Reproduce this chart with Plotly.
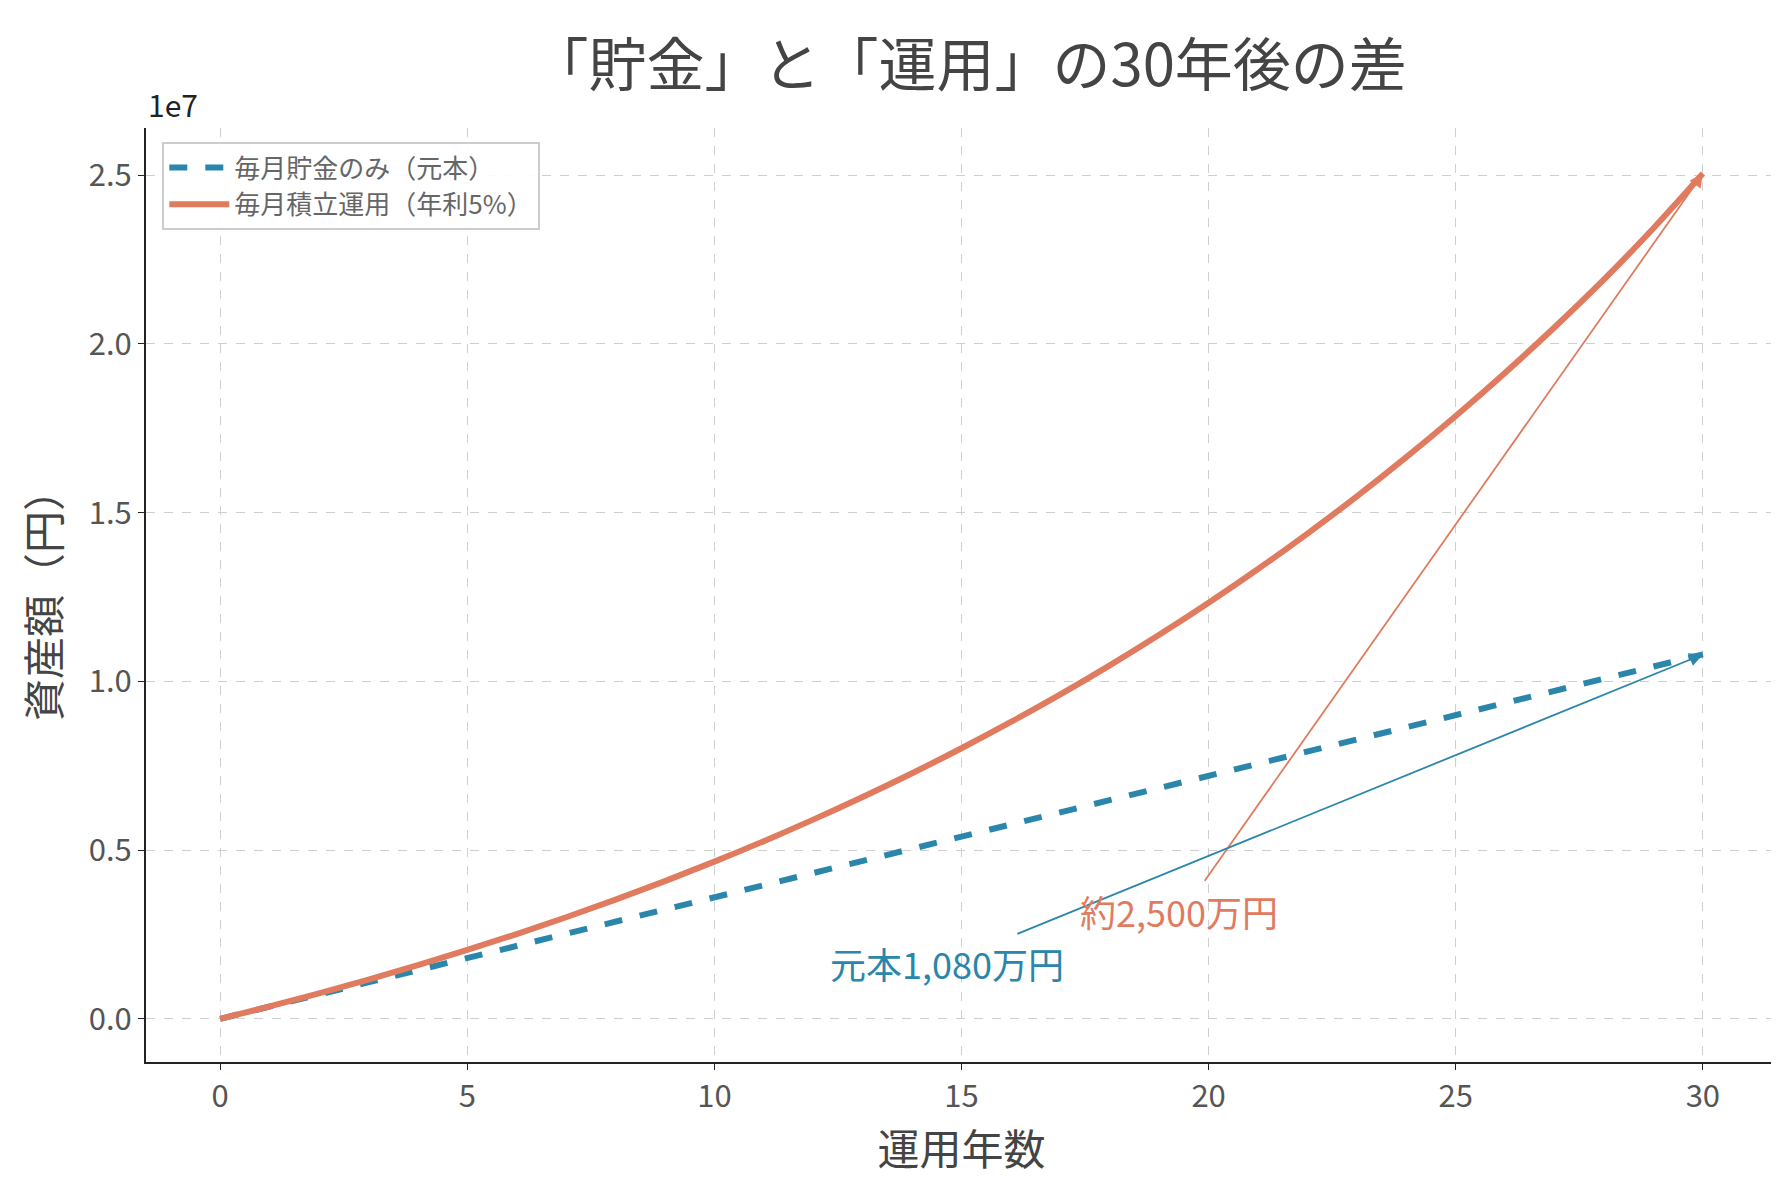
import plotly.graph_objects as go

years = list(range(0, 31))
principal = [y * 360000 for y in years]
invested = [0, 368350, 755570, 1162580, 1590480, 2040190, 2512940, 3009890, 3532250,
            4081320, 4658470, 5265220, 5902920, 6573310, 7277980, 8018640, 8797320,
            9615740, 10476070, 11380390, 12331010, 13330300, 14380630, 15484750,
            16645320, 17865290, 19147680, 20495740, 21912700, 23430000, 25050000]
ytick_vals = [0, 5e6, 1e7, 1.5e7, 2e7, 2.5e7]
ytick_text = ["0.0", "0.5", "1.0", "1.5", "2.0", "2.5"]

BLUE = "#2a86ab"
ORANGE = "#e07b5f"
FONT = "Noto Sans CJK JP"

fig = go.Figure()
fig.add_trace(go.Scatter(x=years, y=principal, mode="lines", name="毎月貯金のみ（元本）",
                         line=dict(color=BLUE, width=6, dash="dash")))
fig.add_trace(go.Scatter(x=years, y=invested, mode="lines", name="毎月積立運用（年利5%）",
                         line=dict(color=ORANGE, width=6, shape="spline")))

# arrows
fig.add_annotation(x=30, y=invested[-1], ax=19.9, ay=4.05e6, axref="x", ayref="y",
                   xref="x", yref="y", text="", showarrow=True, arrowhead=2,
                   arrowsize=1.5, arrowwidth=1.8, arrowcolor=ORANGE)
fig.add_annotation(x=30, y=principal[-1], ax=16.1, ay=2.5e6, axref="x", ayref="y",
                   xref="x", yref="y", text="", showarrow=True, arrowhead=2,
                   arrowsize=1.5, arrowwidth=1.8, arrowcolor=BLUE)
fig.add_annotation(x=19.4, y=3.2e6, text="約2,500万円", showarrow=False,
                   font=dict(size=36, color=ORANGE, family=FONT))
fig.add_annotation(x=14.7, y=1.66e6, text="元本1,080万円", showarrow=False,
                   font=dict(size=36, color=BLUE, family=FONT))
fig.add_annotation(x=0, y=1.0, xref="paper", yref="paper", text="1e7", showarrow=False,
                   xanchor="left", yanchor="bottom", font=dict(size=30, color="#222"))

axis_common = dict(showline=True, linecolor="#222", linewidth=2, ticks="outside",
                   tickcolor="#222", ticklen=6, showgrid=True, gridcolor="#cfcfcf",
                   griddash="dash", gridwidth=1, zeroline=False,
                   tickfont=dict(size=31, color="#555", family=FONT))
fig.update_xaxes(range=[-1.5, 31.5], tickvals=[0, 5, 10, 15, 20, 25, 30],
                 title=dict(text="運用年数", font=dict(size=42, color="#444", family=FONT)),
                 **axis_common)
fig.update_yaxes(range=[-1.28e6, 26.4e6], tickvals=ytick_vals, ticktext=ytick_text,
                 title=dict(text="資産額（円）", font=dict(size=42, color="#444", family=FONT)),
                 **axis_common)

fig.update_layout(
    width=1779, height=1180,
    margin=dict(l=138, r=10, t=120, b=126),
    plot_bgcolor="white", paper_bgcolor="white",
    title=dict(text="「貯金」と「運用」の30年後の差", x=0.54, y=0.968,
               font=dict(size=58, color="#444", family=FONT)),
    legend=dict(x=0.01, y=0.985, xanchor="left", yanchor="top",
                bgcolor="rgba(255,255,255,0.9)", bordercolor="#ccc", borderwidth=2,
                font=dict(size=26, color="#666", family=FONT), itemwidth=60),
    font=dict(family=FONT),
)

fig.write_html("out.html")
